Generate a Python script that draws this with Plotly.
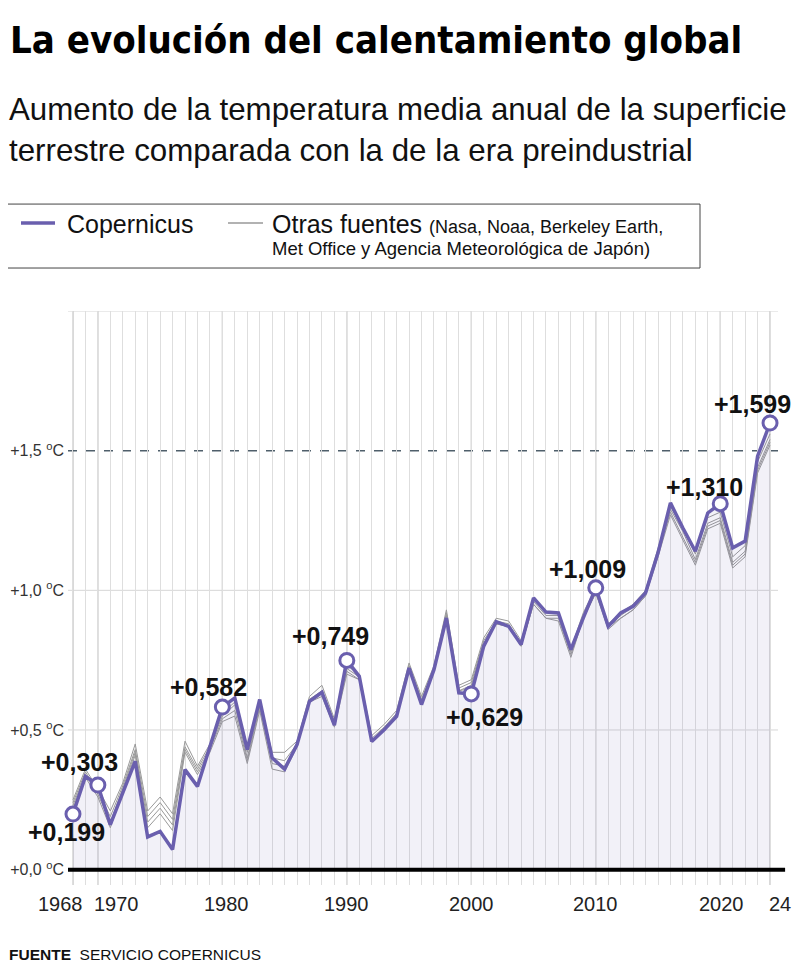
import plotly.graph_objects as go

# Datos (lectura aproximada del gráfico original)
YEARS = list(range(1968, 2025))

COPERNICUS = [
    0.199, 0.334, 0.303, 0.161, 0.275, 0.388, 0.117, 0.137, 0.072, 0.358,
    0.298, 0.436, 0.582, 0.615, 0.430, 0.609, 0.400, 0.360, 0.448, 0.603,
    0.635, 0.517, 0.749, 0.692, 0.459, 0.501, 0.549, 0.722, 0.591, 0.716,
    0.901, 0.633, 0.629, 0.800, 0.888, 0.871, 0.806, 0.973, 0.922, 0.919,
    0.788, 0.901, 1.009, 0.871, 0.919, 0.943, 0.991, 1.134, 1.313, 1.223,
    1.140, 1.277, 1.310, 1.152, 1.176, 1.480, 1.599,
]

OTRAS_1 = [
    0.25, 0.36, 0.29, 0.21, 0.31, 0.45, 0.21, 0.26, 0.20, 0.46,
    0.37, 0.45, 0.56, 0.60, 0.42, 0.60, 0.42, 0.42, 0.46, 0.62,
    0.66, 0.54, 0.73, 0.70, 0.48, 0.52, 0.57, 0.74, 0.62, 0.73,
    0.93, 0.66, 0.68, 0.83, 0.90, 0.89, 0.82, 0.97, 0.92, 0.92,
    0.79, 0.92, 1.01, 0.88, 0.92, 0.95, 1.00, 1.15, 1.30, 1.22,
    1.13, 1.26, 1.28, 1.12, 1.16, 1.46, 1.56,
]
OTRAS_2 = [
    0.24, 0.35, 0.28, 0.19, 0.30, 0.43, 0.19, 0.24, 0.18, 0.44,
    0.36, 0.44, 0.55, 0.59, 0.40, 0.59, 0.40, 0.39, 0.45, 0.61,
    0.64, 0.53, 0.72, 0.69, 0.47, 0.51, 0.56, 0.73, 0.61, 0.72,
    0.92, 0.65, 0.67, 0.82, 0.89, 0.88, 0.81, 0.96, 0.91, 0.91,
    0.78, 0.91, 1.00, 0.87, 0.91, 0.94, 0.99, 1.14, 1.29, 1.21,
    1.11, 1.24, 1.26, 1.10, 1.14, 1.44, 1.54,
]
OTRAS_3 = [
    0.23, 0.34, 0.27, 0.17, 0.29, 0.42, 0.17, 0.22, 0.16, 0.43,
    0.35, 0.43, 0.54, 0.57, 0.39, 0.58, 0.38, 0.37, 0.44, 0.60,
    0.63, 0.52, 0.71, 0.68, 0.46, 0.50, 0.55, 0.72, 0.60, 0.71,
    0.91, 0.64, 0.66, 0.81, 0.88, 0.87, 0.80, 0.95, 0.90, 0.90,
    0.77, 0.90, 0.99, 0.86, 0.90, 0.93, 0.98, 1.13, 1.28, 1.19,
    1.10, 1.23, 1.25, 1.09, 1.13, 1.43, 1.53,
]
OTRAS_4 = [
    0.22, 0.33, 0.26, 0.15, 0.28, 0.41, 0.15, 0.20, 0.14, 0.42,
    0.34, 0.42, 0.53, 0.55, 0.38, 0.57, 0.36, 0.35, 0.44, 0.60,
    0.62, 0.51, 0.70, 0.68, 0.46, 0.50, 0.55, 0.72, 0.60, 0.72,
    0.90, 0.64, 0.65, 0.80, 0.88, 0.87, 0.80, 0.95, 0.90, 0.89,
    0.76, 0.90, 0.99, 0.87, 0.90, 0.93, 0.98, 1.12, 1.27, 1.18,
    1.09, 1.22, 1.24, 1.08, 1.12, 1.42, 1.52,
]

HIGHLIGHT_YEARS = [1968, 1970, 1980, 1990, 2000, 2010, 2020, 2024]
HIGHLIGHT_LABELS = ["+0,199", "+0,303", "+0,582", "+0,749", "+0,629", "+1,009", "+1,310", "+1,599"]
# desplazamiento (px) de cada etiqueta respecto a su punto
LABEL_SHIFTS = [(-6, -18), (-18, 23), (-14, 20), (-16, 24), (13, -23), (-8, 19), (-16, 17), (-18, 19)]

Y_TICKS = [0.0, 0.5, 1.0, 1.5]
Y_TICK_TEXT = ["+0,0 <sup>o</sup>C", "+0,5 <sup>o</sup>C", "+1,0 <sup>o</sup>C", "+1,5 <sup>o</sup>C"]
X_MAJOR = [1968, 1970, 1980, 1990, 2000, 2010, 2020, 2024]
X_LABELS = ["1968", "1970", "1980", "1990", "2000", "2010", "2020", "24"]
X_LABEL_SHIFT = [-12, 19, 4, 0, 0, 0, 1, 10]

PURPLE = "#6a5fae"
GRAY_LINE = "#999999"
FONT = "Liberation Sans, Arial, sans-serif"

# la pagina deja 8px de margen: todo se coloca en pixeles de la referencia menos OFF
OFF = 8
W, H = 792, 959
L, R, T = 68 - OFF, 22, 311 - OFF
B = H - (885.4 - OFF)


def px(x):
    return (x - OFF - L) / (W - L - R)


def py(y):
    return (H - B - (y - OFF)) / (H - T - B)


fig = go.Figure()

for serie in [OTRAS_1, OTRAS_2, OTRAS_3, OTRAS_4]:
    fig.add_trace(go.Scatter(
        x=YEARS, y=serie, mode="lines",
        line=dict(color=GRAY_LINE, width=1),
        hoverinfo="skip", showlegend=False,
    ))

fig.add_trace(go.Scatter(
    x=YEARS, y=COPERNICUS, mode="lines",
    line=dict(color=PURPLE, width=3.5),
    fill="tozeroy", fillcolor="rgba(106,95,174,0.09)",
    showlegend=False,
))

hl_values = [COPERNICUS[YEARS.index(y)] for y in HIGHLIGHT_YEARS]
fig.add_trace(go.Scatter(
    x=HIGHLIGHT_YEARS, y=hl_values, mode="markers",
    marker=dict(size=14, color="white", line=dict(color=PURPLE, width=3)),
    showlegend=False, cliponaxis=False,
))

annotations = []
for yr, val, txt, (dx, dy) in zip(HIGHLIGHT_YEARS, hl_values, HIGHLIGHT_LABELS, LABEL_SHIFTS):
    annotations.append(dict(
        x=yr, y=val, text=f"<b>{txt}</b>", showarrow=False,
        xshift=dx, yshift=dy,
        font=dict(family=FONT, size=25, color="#111"),
    ))

for yr, txt, dx in zip(X_MAJOR, X_LABELS, X_LABEL_SHIFT):
    annotations.append(dict(
        x=yr, y=0, xref="x", yref="y", text=txt, showarrow=False,
        xshift=dx, yshift=-34,
        font=dict(family=FONT, size=20, color="#222"),
    ))

# titulo, subtitulo, fuente
annotations += [
    dict(x=px(8), y=py(40), xref="paper", yref="paper", xanchor="left", yanchor="middle",
         text="<b>La evolución del calentamiento global</b>", showarrow=False,
         font=dict(family="DejaVu Sans Condensed, Liberation Sans Narrow, sans-serif", size=38, color="#000")),
    dict(x=px(7), y=py(90), xref="paper", yref="paper", xanchor="left", yanchor="top",
         text="Aumento de la temperatura media anual de la superficie<br>terrestre comparada con la de la era preindustrial",
         showarrow=False, align="left",
         font=dict(family=FONT, size=31.3, color="#111")),
    dict(x=px(7), y=py(955), xref="paper", yref="paper", xanchor="left", yanchor="middle",
         text="<b>FUENTE</b>  SERVICIO COPERNICUS", showarrow=False,
         font=dict(family=FONT, size=15.5, color="#111")),
    # leyenda
    dict(x=px(65), y=py(224), xref="paper", yref="paper", xanchor="left", yanchor="middle",
         text="Copernicus", showarrow=False, font=dict(family=FONT, size=25, color="#111")),
    dict(x=px(270), y=py(224), xref="paper", yref="paper", xanchor="left", yanchor="middle",
         text="Otras fuentes <span style='font-size:18px'>(Nasa, Noaa, Berkeley Earth,</span>",
         showarrow=False, font=dict(family=FONT, size=25, color="#111")),
    dict(x=px(270), y=py(248), xref="paper", yref="paper", xanchor="left", yanchor="middle",
         text="Met Office y Agencia Meteorológica de Japón)", showarrow=False,
         font=dict(family=FONT, size=18.5, color="#111")),
]

shapes = []
# lineas de decada mas oscuras
for yr in X_MAJOR:
    shapes.append(dict(type="line", xref="x", yref="paper", x0=yr, x1=yr, y0=0, y1=1,
                       line=dict(color="#bdbdbd", width=1.2), layer="below"))
# lineas horizontales
for v in [0.5, 1.0, 2.0]:
    shapes.append(dict(type="line", xref="paper", yref="y", x0=0, x1=1, y0=v, y1=v,
                       line=dict(color="#d6d6d6", width=1), layer="below"))
shapes.append(dict(type="line", xref="paper", yref="y", x0=0, x1=1, y0=1.5, y1=1.5,
                   line=dict(color="#4f5f6b", width=1.5, dash="dash"), layer="below"))
shapes.append(dict(type="line", xref="paper", yref="y", x0=0, x1=1.01, y0=0, y1=0,
                   line=dict(color="#000", width=4), layer="above"))
# caja de la leyenda
shapes.append(dict(type="rect", xref="paper", yref="paper",
                   x0=px(7), x1=px(700), y0=py(268), y1=py(204),
                   line=dict(color="#444", width=1), fillcolor="white"))
shapes.append(dict(type="line", xref="paper", yref="paper", x0=px(21), x1=px(55), y0=py(223), y1=py(223),
                   line=dict(color=PURPLE, width=3.5)))
shapes.append(dict(type="line", xref="paper", yref="paper", x0=px(228), x1=px(263), y0=py(223), y1=py(223),
                   line=dict(color=GRAY_LINE, width=1.5)))

fig.update_layout(
    width=W, height=H,
    margin=dict(l=L, r=R, t=T, b=B),
    plot_bgcolor="white", paper_bgcolor="white",
    xaxis=dict(
        range=[1967.6, 2024.64], showgrid=False, zeroline=False, automargin=False,
        showticklabels=False, ticks="",
        tickvals=X_MAJOR,
        minor=dict(tick0=1968, dtick=1, showgrid=True, gridcolor="#dedede", gridwidth=1),
    ),
    yaxis=dict(
        range=[-0.055, 2.0], showgrid=False, zeroline=False, automargin=False,
        tickvals=Y_TICKS, ticktext=Y_TICK_TEXT, ticks="",
        ticklabelstandoff=3,
        tickfont=dict(family=FONT, size=16, color="#333"),
    ),
    annotations=annotations,
    shapes=shapes,
    showlegend=False,
)

fig.write_html("out.html")
